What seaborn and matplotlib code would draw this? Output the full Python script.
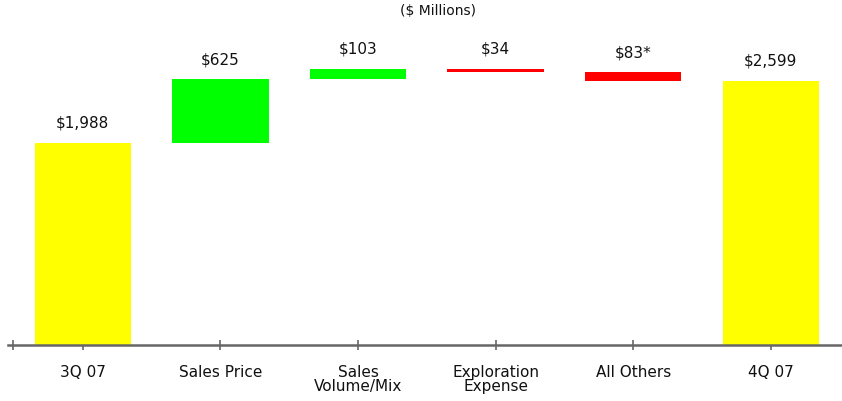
import matplotlib
matplotlib.use("Agg")
import matplotlib.pyplot as plt
import seaborn as sns
import pandas as pd
import numpy as np

# Quarter-over-quarter earnings bridge ($ millions)
categories = ["3Q 07", "Sales Price", "Sales\nVolume/Mix", "Exploration\nExpense", "All Others", "4Q 07"]
changes = [1988, 625, 103, -34, -83, 2599]
kinds = ["total", "step", "step", "step", "step", "total"]
value_labels = ["$1,988", "$625", "$103", "$34", "$83*", "$2,599"]
bar_colors = ["#FFFF00", "#00FF00", "#00FF00", "#FF0000", "#FF0000", "#FFFF00"]

# Floating bar extents for the waterfall
bottoms, tops = [], []
level = 0
for kind, v in zip(kinds, changes):
    if kind == "total":
        lo, hi = 0, v
        level = v
    else:
        start, level = level, level + v
        lo, hi = min(start, level), max(start, level)
    bottoms.append(lo)
    tops.append(hi)

df = pd.DataFrame({"category": categories,
                   "height": np.array(tops) - np.array(bottoms),
                   "bottom": bottoms,
                   "top": tops})

sns.set_style("white")
plt.rcParams["font.family"] = ["DejaVu Sans"]

fig = plt.figure(figsize=(8.42, 4.02), dpi=100)
ax = fig.add_axes([8 / 842, 56 / 402, 834 / 842, 346 / 402])

sns.barplot(data=df, x="category", y="height", hue="category",
            order=categories, hue_order=categories,
            palette=bar_colors, saturation=1, width=0.7,
            legend=False, ax=ax, linewidth=0)

# Lift each bar onto its running base
for container, lo in zip(ax.containers, bottoms):
    for patch in container:
        patch.set_y(lo)

for i, (hi, text) in enumerate(zip(tops, value_labels)):
    ax.annotate(text, (i, hi), xytext=(0, 11.5), textcoords="offset points",
                ha="center", va="baseline", fontsize=11, color="#111111")

ax.set_xlim(-0.544, 5.517)
ax.set_ylim(0, 3400)
ax.set_xlabel("")
ax.set_ylabel("")
ax.set_yticks([])
for side in ["left", "top", "right"]:
    ax.spines[side].set_visible(False)
ax.spines["bottom"].set_color("#666666")
ax.spines["bottom"].set_linewidth(1.8)

ax.set_xticks(range(len(categories)))
ax.set_xticklabels(categories, fontsize=11, linespacing=0.9, color="#111111")
ax.set_xticks([-0.51], minor=True)
ax.tick_params(axis="x", which="both", direction="inout", length=7,
               width=1.2, color="#666666", pad=10, bottom=True)

fig.text(438 / 842, 1 - 15 / 402, "($ Millions)", ha="center", va="baseline",
         fontsize=10, color="#111111")

fig.savefig("out.png", dpi=100, facecolor="white")
